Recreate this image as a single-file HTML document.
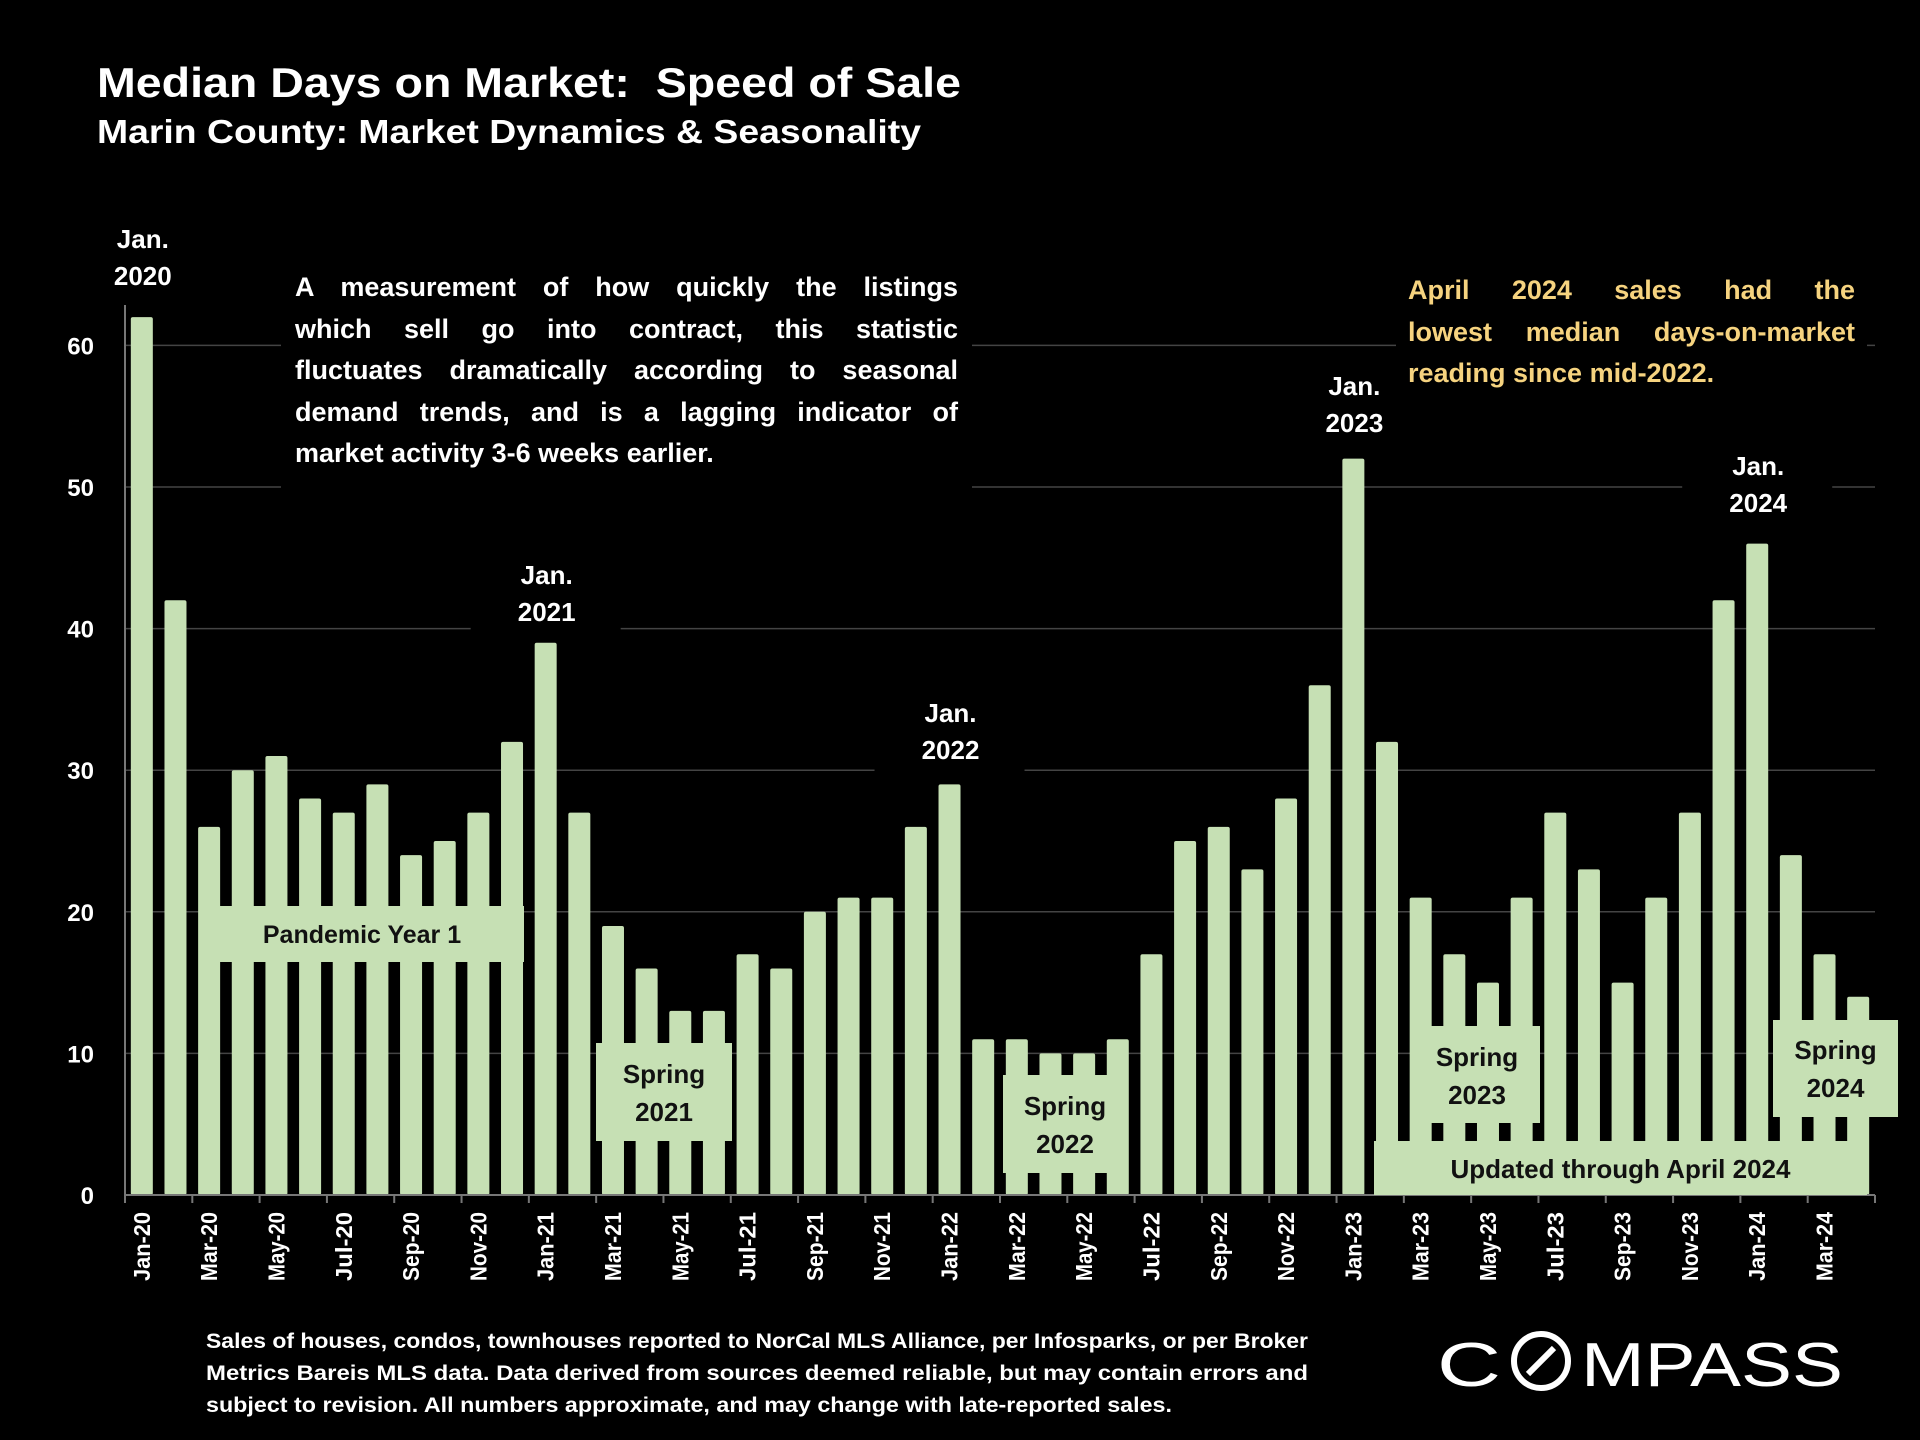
<!DOCTYPE html>
<html><head><meta charset="utf-8"><style>
html,body{margin:0;padding:0;background:#000;}
body{position:relative;width:1920px;height:1440px;overflow:hidden;}
svg{display:block;font-family:"Liberation Sans",sans-serif;font-weight:bold;}
.para{position:absolute;font-family:"Liberation Sans",sans-serif;font-weight:bold;font-size:27px;line-height:41.5px;}
.para div{text-align:justify;text-align-last:justify;white-space:nowrap;}
.para div.last{text-align-last:left;}
</style></head><body>
<svg id="chart" width="1920" height="1440" viewBox="0 0 1920 1440" xmlns="http://www.w3.org/2000/svg">
<rect width="1920" height="1440" fill="#000"/>
<text x="97" y="97" fill="#fff" font-size="42" textLength="864" lengthAdjust="spacingAndGlyphs">Median Days on Market:&#160; Speed of Sale</text>
<text x="97" y="143" fill="#fff" font-size="33" textLength="824" lengthAdjust="spacingAndGlyphs">Marin County: Market Dynamics &amp; Seasonality</text>
<g id="grid"></g>
<g id="bars"></g>
<g id="axes"></g>
<g id="notes"></g>
<g fill="#fff" font-size="21">
<text x="206" y="1348" textLength="1102" lengthAdjust="spacingAndGlyphs">Sales of houses, condos, townhouses reported to NorCal MLS Alliance, per Infosparks, or per Broker</text>
<text x="206" y="1380" textLength="1102" lengthAdjust="spacingAndGlyphs">Metrics Bareis MLS data. Data derived from sources deemed reliable, but may contain errors and</text>
<text x="206" y="1412" textLength="966" lengthAdjust="spacingAndGlyphs">subject to revision. All numbers approximate, and may change with late-reported sales.</text>
</g>
<g fill="#fff" font-size="62" font-weight="normal">
<text x="1437" y="1386" textLength="64" lengthAdjust="spacingAndGlyphs">C</text>
<circle cx="1541" cy="1361" r="27" fill="none" stroke="#fff" stroke-width="6"/>
<line x1="1528" y1="1374" x2="1554" y2="1348" stroke="#fff" stroke-width="6"/>
<text x="1581" y="1386" textLength="262" lengthAdjust="spacingAndGlyphs">MPASS</text>
</g>
</svg>
<div class="para" style="left:295px;top:267px;width:663px;color:#fff;background:#000;box-shadow:0 0 0 14px #000;">
<div>A measurement of how quickly the listings</div>
<div>which sell go into contract, this statistic</div>
<div>fluctuates dramatically according to seasonal</div>
<div>demand trends, and is a lagging indicator of</div>
<div class="last">market activity 3-6 weeks earlier.</div>
</div>
<div class="para" style="left:1408px;top:270px;width:447px;color:#f6d37f;background:#000;box-shadow:0 0 0 12px #000;">
<div>April 2024 sales had the</div>
<div>lowest median days-on-market</div>
<div class="last">reading since mid-2022.</div>
</div>
<script>
const months = ["Jan-20","Feb-20","Mar-20","Apr-20","May-20","Jun-20","Jul-20","Aug-20","Sep-20","Oct-20","Nov-20","Dec-20","Jan-21","Feb-21","Mar-21","Apr-21","May-21","Jun-21","Jul-21","Aug-21","Sep-21","Oct-21","Nov-21","Dec-21","Jan-22","Feb-22","Mar-22","Apr-22","May-22","Jun-22","Jul-22","Aug-22","Sep-22","Oct-22","Nov-22","Dec-22","Jan-23","Feb-23","Mar-23","Apr-23","May-23","Jun-23","Jul-23","Aug-23","Sep-23","Oct-23","Nov-23","Dec-23","Jan-24","Feb-24","Mar-24","Apr-24"];
const days = [62,42,26,30,31,28,27,29,24,25,27,32,39,27,19,16,13,13,17,16,20,21,21,26,29,11,11,10,10,11,17,25,26,23,28,36,52,32,21,17,15,21,27,23,15,21,27,42,46,24,17,14];
const yTicks = [0,10,20,30,40,50,60];
const NS="http://www.w3.org/2000/svg";
const X0=125,X1=1875,Y0=1195,PER10=141.6;
const cw=(X1-X0)/months.length;
function xc(i){return X0+cw*(i+0.5);}
function y(v){return Y0-v*PER10/10;}
function mk(tag,attrs,parent){const e=document.createElementNS(NS,tag);for(const k in attrs)e.setAttribute(k,attrs[k]);parent.appendChild(e);return e;}
const grid=document.getElementById('grid'),bars=document.getElementById('bars'),axes=document.getElementById('axes'),notes=document.getElementById('notes');
yTicks.forEach(t=>{
  if(t>0){const g=mk('line',{x1:X0,x2:X1,y1:y(t),y2:y(t),stroke:'#444','stroke-width':1.5},grid);
  
  }
  const tx=mk('text',{x:94,y:y(t)+9,fill:'#fff','font-size':24,'text-anchor':'end'},axes);
  tx.textContent=t;
  
  
});
days.forEach((v,i)=>{
  const r=mk('rect',{x:xc(i)-11,y:y(v),width:22,height:Y0-y(v),fill:'#c6e0b4',rx:2},bars);
  
  
});
const ax=mk('line',{x1:X0,x2:X1,y1:Y0,y2:Y0,stroke:'#777','stroke-width':2},axes);


const ay=mk('line',{x1:X0,x2:X0,y1:305,y2:Y0+8,stroke:'#777','stroke-width':2},axes);


for(let i=0;i<=months.length;i+=2){
  const tk=mk('line',{x1:X0+cw*i,x2:X0+cw*i,y1:Y0,y2:Y0+8,stroke:'#777','stroke-width':2},axes);
  
  
}
months.forEach((m,i)=>{
  if(i%2)return;
  const t=mk('text',{transform:`translate(${xc(i)+8},1212) rotate(-90)`,fill:'#fff','font-size':23,'text-anchor':'end',textLength:m.length*11.5,lengthAdjust:'spacingAndGlyphs'},axes);
  t.textContent=m;
  
  
});
function box(name,x,yy,w,h,lines,fs,ly){
  const g=mk('g',{},notes);
  
  
  mk('rect',{x:x,y:yy,width:w,height:h,fill:'#c6e0b4'},g);
  lines.forEach((l,k)=>{const t=mk('text',{x:x+w/2,y:ly[k],fill:'#111','font-size':fs,'text-anchor':'middle'},g);t.textContent=l;});
}
box('pandemic-year-1-label',200,906,324,56,['Pandemic Year 1'],25,[943]);
box('spring-2021-label',596,1043,136,98,['Spring','2021'],26,[1083,1121]);
box('spring-2022-label',1003,1075,124,98,['Spring','2022'],26,[1115,1153]);
box('updated-through-label',1374,1141,493,54,['Updated through April 2024'],26,[1178]);
box('spring-2023-label',1414,1026,126,97,['Spring','2023'],26,[1066,1104]);
box('spring-2024-label',1773,1020,125,97,['Spring','2024'],26,[1059,1097]);
function janLabel(name,i,yy){
  const g=mk('g',{},notes);
  
  
  mk('rect',{x:xc(i)-75,y:yy-32,width:150,height:82,fill:'#000'},g);
  ['Jan.',String(2020+i/12)].forEach((l,k)=>{const t=mk('text',{x:xc(i)+1,y:yy+k*37,fill:'#fff','font-size':26,'text-anchor':'middle'},g);t.textContent=l;});
}
janLabel('jan-2020-label',0,248);
janLabel('jan-2021-label',12,584);
janLabel('jan-2022-label',24,722);
janLabel('jan-2023-label',36,395);
janLabel('jan-2024-label',48,475);
</script>
</body></html>
